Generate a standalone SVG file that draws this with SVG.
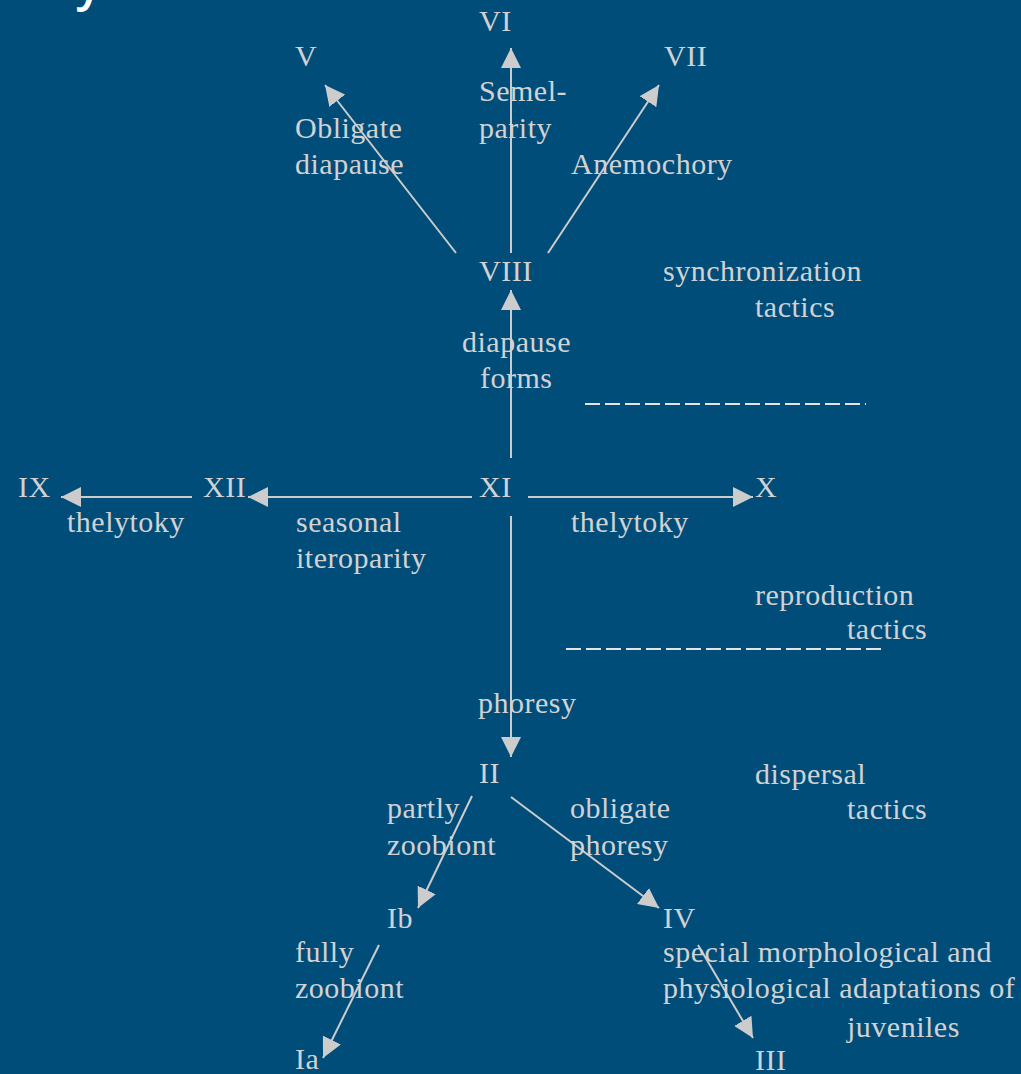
<svg xmlns="http://www.w3.org/2000/svg" width="1021" height="1074" viewBox="0 0 1021 1074">
<defs>
<style>
.t{font-family:"Liberation Serif","Times New Roman",serif;font-size:30px;fill:#d2d2d2;letter-spacing:0.5px}
.e{stroke:#cccccc;stroke-width:2;fill:none}
.a{marker-end:url(#ah)}
.d{stroke:#e4e4e4;stroke-width:2;stroke-dasharray:15 5;fill:none}
</style>
<marker id="ah" viewBox="0 0 20 20" refX="20" refY="10" markerWidth="20" markerHeight="20" markerUnits="userSpaceOnUse" orient="auto">
<path d="M0,0 L20,10 L0,20 z" fill="#cccccc"/>
</marker>
</defs>
<rect x="0" y="0" width="1021" height="1074" fill="#014d7a"/>
<text x="76" y="0" font-family="'Open Sans','Liberation Sans',sans-serif" font-size="48" font-weight="600" fill="#ffffff">y</text>

<g id="connectors">
<line class="e a" x1="511" y1="253" x2="511" y2="48"/>
<line class="e a" x1="548" y1="253" x2="659" y2="85"/>
<line class="e a" x1="456" y1="253" x2="325" y2="85"/>
<line class="e a" x1="511" y1="458" x2="511" y2="290"/>
<line class="e a" x1="472" y1="497" x2="248" y2="497"/>
<line class="e a" x1="192" y1="497" x2="61" y2="497"/>
<line class="e a" x1="528" y1="497" x2="753" y2="497"/>
<line class="e a" x1="511" y1="516" x2="511" y2="757"/>
<line class="e a" x1="472" y1="796" x2="418" y2="908"/>
<line class="e a" x1="511" y1="797" x2="659" y2="908"/>
<line class="e a" x1="379" y1="945" x2="323" y2="1058"/>
<line class="e a" x1="698" y1="945" x2="753" y2="1038"/>
</g>

<g id="dividers">
<line class="d" x1="585" y1="404" x2="866" y2="404"/>
<line class="d" x1="566" y1="649" x2="882" y2="649"/>
</g>

<g id="node-VI"><text class="t" x="479" y="31">VI</text></g>
<g id="node-V"><text class="t" x="295" y="66">V</text></g>
<g id="node-VII"><text class="t" x="664" y="66">VII</text></g>
<g id="node-VIII"><text class="t" x="479" y="281">VIII</text></g>
<g id="node-XI"><text class="t" x="479" y="497">XI</text></g>
<g id="node-XII"><text class="t" x="203" y="497">XII</text></g>
<g id="node-IX"><text class="t" x="18" y="497">IX</text></g>
<g id="node-X"><text class="t" x="755" y="497">X</text></g>
<g id="node-II"><text class="t" x="479" y="783">II</text></g>
<g id="node-Ib"><text class="t" x="387" y="928">Ib</text></g>
<g id="node-Ia"><text class="t" x="295" y="1069">Ia</text></g>
<g id="node-IV">
<text class="t" x="663" y="928">IV</text>
<text class="t" x="663" y="962">special morphological and</text>
<text class="t" x="663" y="998">physiological adaptations of</text>
<text class="t" x="847" y="1037">juveniles</text>
</g>
<g id="node-III"><text class="t" x="755" y="1070">III</text></g>

<g id="labels">
<text class="t" x="479" y="101">Semel-</text>
<text class="t" x="479" y="138">parity</text>
<text class="t" x="295" y="138">Obligate</text>
<text class="t" x="295" y="174">diapause</text>
<text class="t" x="571" y="174">Anemochory</text>
<text class="t" x="462" y="352">diapause</text>
<text class="t" x="480" y="388">forms</text>
<text class="t" x="67" y="532">thelytoky</text>
<text class="t" x="296" y="532">seasonal</text>
<text class="t" x="296" y="568">iteroparity</text>
<text class="t" x="571" y="532">thelytoky</text>
<text class="t" x="478" y="713">phoresy</text>
<text class="t" x="387" y="818">partly</text>
<text class="t" x="387" y="855">zoobiont</text>
<text class="t" x="570" y="818">obligate</text>
<text class="t" x="570" y="855">phoresy</text>
<text class="t" x="295" y="962">fully</text>
<text class="t" x="295" y="998">zoobiont</text>
</g>

<g id="areas">
<text class="t" x="663" y="281">synchronization</text>
<text class="t" x="755" y="317">tactics</text>
<text class="t" x="755" y="605">reproduction</text>
<text class="t" x="847" y="639">tactics</text>
<text class="t" x="755" y="784">dispersal</text>
<text class="t" x="847" y="819">tactics</text>
</g>
</svg>
